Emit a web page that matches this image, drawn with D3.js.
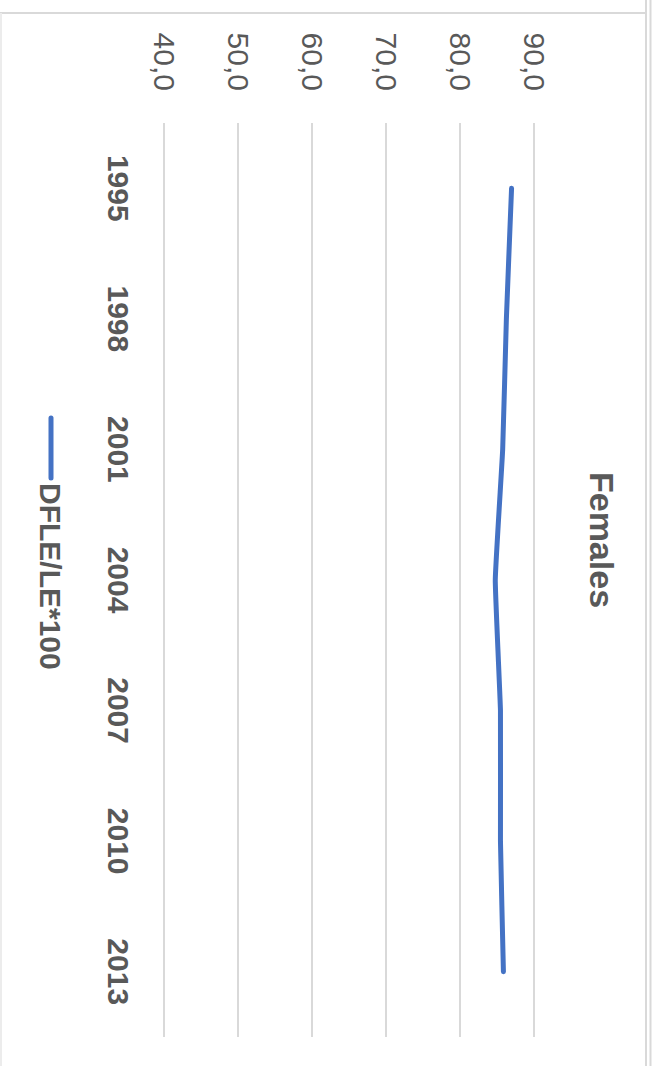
<!DOCTYPE html>
<html>
<head>
<meta charset="utf-8">
<script src="https://cdn.jsdelivr.net/npm/d3@7"></script>
<style>
  html, body { margin: 0; padding: 0; background: #fff; }
  svg { display: block; }
  text { font-family: "Liberation Sans", Arial, sans-serif; fill: #595959; }
</style>
</head>
<body>
<svg id="chart" width="653" height="1066"></svg>
<script>
// ---- data ----
const years = ["1995", "1998", "2001", "2004", "2007", "2010", "2013"];
const dfleRatio = [86.9, 86.2, 85.7, 84.7, 85.4, 85.4, 85.8];
const valueTicks = [40, 50, 60, 70, 80, 90];
const title = "Females";
const seriesName = "DFLE/LE*100";

const SW = 653, SH = 1066;
const svg = d3.select("#chart");

// chart border (screen coordinates)
const border = svg.append("g").attr("stroke", "#d9d9d9").attr("stroke-width", 2).attr("fill", "none");
border.append("line").attr("x1", 0).attr("x2", 646).attr("y1", 13).attr("y2", 13);
border.append("line").attr("x1", 646).attr("x2", 646).attr("y1", 0).attr("y2", SH);
border.append("line").attr("x1", 650.5).attr("x2", 650.5).attr("y1", 0).attr("y2", SH);
border.append("line").attr("x1", 1).attr("x2", 1).attr("y1", 13).attr("y2", SH).attr("stroke", "#ececec");

// the whole chart is drawn in an unrotated frame (1066 wide, 653 tall) then rotated 90deg clockwise
const g = svg.append("g").attr("transform", `translate(${SW},0) rotate(90)`);

const x = d3.scaleBand().domain(years).range([123, 1037]).paddingInner(0).paddingOuter(0);
const y = d3.scaleLinear().domain([40, 90]).range([488.5, 118.5]);

// gridlines
const grid = d3.axisLeft(y).tickValues(valueTicks).tickSize(-(1037 - 123)).tickFormat("");
g.append("g").attr("transform", "translate(123,0)").call(grid)
  .call(s => s.select(".domain").remove())
  .call(s => s.selectAll("line").attr("stroke", "#d9d9d9").attr("stroke-width", 2));

// value axis labels
const fmt = v => d3.format(".1f")(v).replace(".", ",");
const yAxis = d3.axisLeft(y).tickValues(valueTicks).tickSize(0).tickPadding(0).tickFormat(fmt);
g.append("g").attr("transform", "translate(91,0)").call(yAxis)
  .call(s => s.select(".domain").remove())
  .call(s => s.selectAll("text").attr("font-size", 30).attr("font-family", "Liberation Sans, Arial, sans-serif")
    .attr("fill", "#595959").attr("dy", "0.35em"));

// category axis labels
const xAxis = d3.axisBottom(x).tickSize(0).tickPadding(0);
g.append("g").attr("transform", "translate(0,545)").call(xAxis)
  .call(s => s.select(".domain").remove())
  .call(s => s.selectAll("text").attr("font-size", 30).attr("font-weight", "bold")
    .attr("font-family", "Liberation Sans, Arial, sans-serif").attr("fill", "#595959").attr("dy", 0)
    .attr("text-anchor", "middle"));

// line
const cx = d => x(d) + x.bandwidth() / 2;
const line = d3.line().x((d, i) => cx(years[i])).y(d => y(d)).curve(d3.curveCardinal.tension(0.7));
g.append("path").datum(dfleRatio).attr("d", line)
  .attr("fill", "none").attr("stroke", "#4472C4").attr("stroke-width", 5)
  .attr("stroke-linecap", "round").attr("stroke-linejoin", "round");

// title
g.append("text").attr("x", 540).attr("y", 63).attr("text-anchor", "middle")
  .attr("font-size", 34).attr("font-weight", "bold").text(title);

// legend
const lg = g.append("g");
lg.append("line").attr("x1", 418).attr("x2", 478).attr("y1", 602).attr("y2", 602)
  .attr("stroke", "#4472C4").attr("stroke-width", 5).attr("stroke-linecap", "round");
lg.append("text").attr("x", 483).attr("y", 613).attr("font-size", 30).attr("font-weight", "bold").text(seriesName);
</script>
</body>
</html>
